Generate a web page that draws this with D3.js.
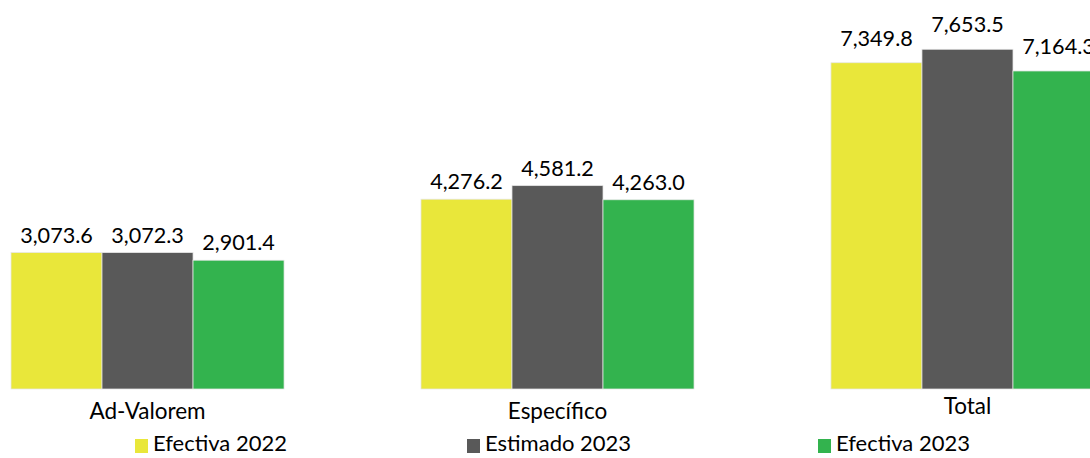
<!DOCTYPE html>
<html>
<head>
<meta charset="utf-8">
<script src="https://cdn.jsdelivr.net/npm/d3@7"></script>
<style>
    body { margin: 0; background: #fff; }
    svg { display: block; font-family: Lato, "Noto Sans", sans-serif; }
</style>
</head>
<body>
<svg id="chart" width="1090" height="458"></svg>
<script>
var categories = ['Ad-Valorem', 'Específico', 'Total'];
var seriesNames = ['Efectiva 2022', 'Estimado 2023', 'Efectiva 2023'];
var efectiva2022 = [3073.6, 4276.2, 7349.8];
var estimado2023 = [3072.3, 4581.2, 7653.5];
var efectiva2023 = [2901.4, 4263.0, 7164.3];
var colors = ['#e9e73a', '#595959', '#33b34e'];

var values = [efectiva2022, estimado2023, efectiva2023];
var svg = d3.select('#chart');

var x = d3.scaleBand()
    .domain(categories)
    .range([11, 1104])
    .paddingInner(0.334)
    .paddingOuter(0);

var xs = d3.scaleBand()
    .domain(seriesNames)
    .range([0, x.bandwidth()]);

var y = d3.scaleLinear()
    .domain([0, 9000])
    .range([389, -10.5]);

var fmt = d3.format(',.1f');

var rows = [];
categories.forEach(function (cat, ci) {
    seriesNames.forEach(function (name, si) {
        rows.push({ cat: cat, name: name, si: si, value: values[si][ci] });
    });
});

var groups = svg.append('g').attr('class', 'bars');

groups.selectAll('rect')
    .data(rows)
    .enter().append('rect')
    .attr('x', function (d) { return x(d.cat) + xs(d.name); })
    .attr('y', function (d) { return y(d.value); })
    .attr('width', xs.bandwidth())
    .attr('height', function (d) { return y(0) - y(d.value); })
    .attr('fill', function (d) { return colors[d.si]; })
    .attr('stroke', '#e6e6e6')
    .attr('stroke-width', 0.75);

// labels in the Total group sit a little higher
function labelGap(d) {
    return d.cat === 'Total' ? 17 : 10;
}

groups.selectAll('text.value')
    .data(rows)
    .enter().append('text')
    .attr('class', 'value')
    .attr('x', function (d) { return x(d.cat) + xs(d.name) + xs.bandwidth() / 2; })
    .attr('y', function (d) { return y(d.value) - labelGap(d); })
    .attr('text-anchor', 'middle')
    .attr('font-size', 21.6)
    .attr('fill', '#000')
    .text(function (d) { return fmt(d.value); });

var xAxis = svg.append('g')
    .attr('transform', 'translate(0,' + y(0) + ')')
    .call(d3.axisBottom(x).tickSize(0));
xAxis.select('.domain').remove();
xAxis.selectAll('text')
    .attr('y', function (d) { return d === 'Total' ? 25 : 30; })
    .attr('dy', null)
    .attr('font-size', 22.5)
    .attr('font-family', 'Lato, "Noto Sans", sans-serif')
    .attr('fill', '#000');

var legendX = [135, 467, 818];
var legend = svg.append('g').attr('class', 'legend');
var item = legend.selectAll('g')
    .data(seriesNames)
    .enter().append('g')
    .attr('transform', function (d, i) { return 'translate(' + legendX[i] + ',439)'; });

item.append('rect')
    .attr('width', 13)
    .attr('height', 14)
    .attr('fill', function (d, i) { return colors[i]; });

item.append('text')
    .attr('x', 18)
    .attr('y', 12)
    .attr('font-size', 22)
    .attr('fill', '#000')
    .text(function (d) { return d; });
</script>
</body>
</html>
